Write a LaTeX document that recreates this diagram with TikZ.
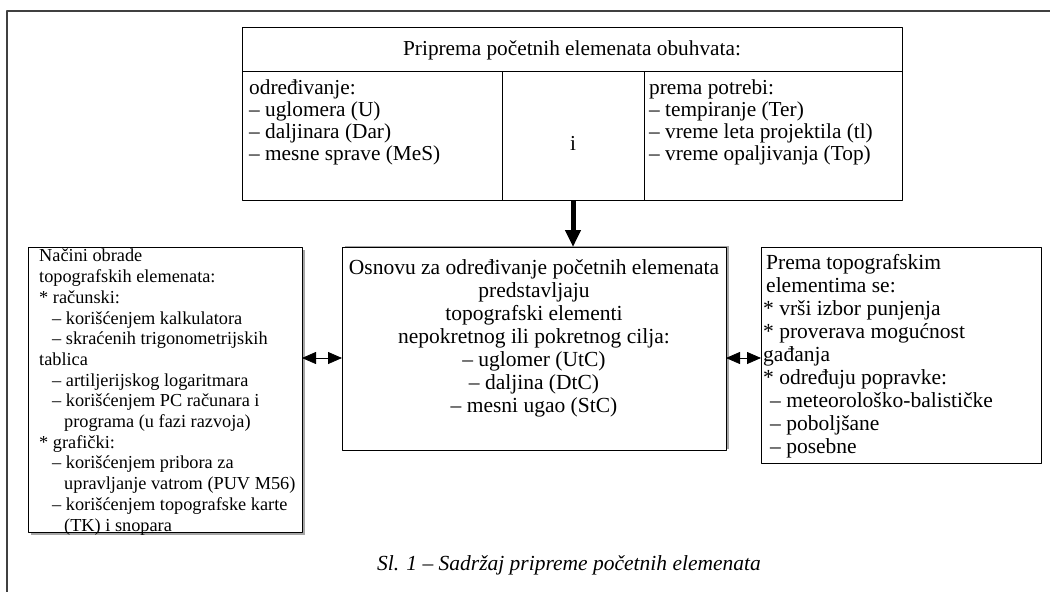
\documentclass[tikz,border=0pt]{standalone}
\usepackage{fontspec}
\setmainfont{Liberation Serif}
\usetikzlibrary{arrows.meta,shadows}
\newcommand\fgore{\fontsize{21.3}{22}\selectfont}
\newcommand\fsred{\fontsize{21.5}{23}\selectfont}
\newcommand\flevo{\fontsize{18.3}{20.7}\selectfont}
\begin{document}
\begin{tikzpicture}[x=1pt,y=-1pt,line join=round,
  box/.style={draw,line width=1.1pt,anchor=north west,inner sep=0pt,fill=white},
  txt/.style={anchor=north west,align=left,inner sep=0pt},
  sjenka/.style={drop shadow={shadow xshift=2pt,shadow yshift=#1,fill=gray!70,opacity=1}},
  obe/.style={{Triangle[width=12pt,length=14pt]}-{Triangle[width=12pt,length=14pt]},line width=.8pt},
  dole/.style={-{Triangle[width=15pt,length=17pt]},line width=5pt}]
\useasboundingbox (0,0) rectangle (1050,592);
% okvir
\draw[line width=2pt,black!75] (1050,10.5) -- (7,10.5) -- (7,592);
% gornja tabela
\node[box,minimum width=660pt,minimum height=173pt] (priprema) at (242,27) {};
\draw[line width=.7pt] (242,71) -- (902,71) (502,71) -- (502,200) (644,71) -- (644,200);
\node[font=\fgore] (naslov) at (572,50) {Priprema početnih elemenata obuhvata:};
\node[txt,font=\fgore] (odredjivanje) at (249,80) {određivanje:\\– uglomera (U)\\– daljinara (Dar)\\– mesne sprave (MeS)};
\node[font=\fgore] (i) at (573,143) {i};
\node[txt,font=\fgore] (potreba) at (649,80) {prema potrebi:\\– tempiranje (Ter)\\– vreme leta projektila (tl)\\– vreme opaljivanja (Top)};
% srednji blok
\node[box,sjenka=2pt,minimum width=384pt,minimum height=203pt] (osnovu) at (342,247) {};
\node[font=\fsred,align=center,anchor=north,inner sep=0pt] (osnovutxt) at (534,259)
  {Osnovu za određivanje početnih elemenata\\predstavljaju\\topografski elementi\\nepokretnog ili pokretnog cilja:\\– uglomer (UtC)\\– daljina (DtC)\\– mesni ugao (StC)};
% levi blok
\node[box,sjenka=-2pt,minimum width=274pt,minimum height=285pt] (nacini) at (28,247) {};
\node[txt,font=\flevo] (nacinitxt) at (39,249)
  {Načini obrade\\topografskih elemenata:\\* računski:\\
   \hspace*{13pt}– korišćenjem kalkulatora\\\hspace*{13pt}– skraćenih trigonometrijskih\\tablica\\
   \hspace*{13pt}– artiljerijskog logaritmara\\\hspace*{13pt}– korišćenjem PC računara i\\
   \hspace*{25pt}programa (u fazi razvoja)\\* grafički:\\\hspace*{13pt}– korišćenjem pribora za\\
   \hspace*{25pt}upravljanje vatrom (PUV M56)\\\hspace*{13pt}– korišćenjem topografske karte\\
   \hspace*{25pt}(TK) i snopara};
% desni blok
\node[box,minimum width=280pt,minimum height=216pt] (premaTE) at (761,247) {};
\node[txt,font=\fsred] (premaTEtxt) at (763,254)
  {\hspace*{3pt}Prema topografskim\\\hspace*{3pt}elementima se:\\* vrši izbor punjenja\\
   * proverava mogućnost\\gađanja\\* određuju popravke:\\\hspace*{7pt}– meteorološko-balističke\\
   \hspace*{7pt}– poboljšane\\\hspace*{7pt}– posebne};
% strelice
\coordinate (s1) at (573,200);
\draw[dole] (s1) -- (s1 |- osnovu.north);
\coordinate (l1) at (302,358);
\coordinate (d1) at (726,358);
\draw[obe] (l1) -- (l1 -| osnovu.west);
\draw[obe] (d1) -- (d1 -| premaTE.west);
% natpis
\node[font=\fontsize{21.5}{23}\selectfont\itshape] (slika) at (569,565) {Sl. 1 – Sadržaj pripreme početnih elemenata};
\end{tikzpicture}
\end{document}
